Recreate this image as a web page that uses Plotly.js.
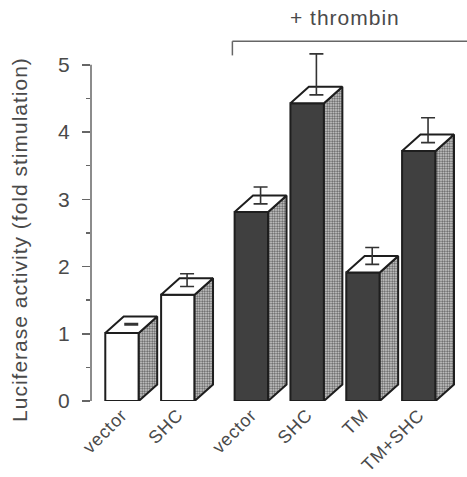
<!DOCTYPE html>
<html>
<head>
<meta charset="utf-8">
<script src="https://cdn.plot.ly/plotly-3.0.1.min.js"></script>
<style>
html,body{margin:0;padding:0;background:#fff;}
#chart{width:467px;height:477px;}
#chart .xtick text{letter-spacing:0.8px;}
#chart .annotation-text{letter-spacing:1px;}
</style>
</head>
<body>
<div id="chart"></div>
<script>
// ---- data ----
const categories = ['vector', 'SHC', 'vector', 'SHC', 'TM', 'TM+SHC'];
const groups = [0, 0, 1, 1, 1, 1];          // 0 = control, 1 = + thrombin
const values = [1.01, 1.58, 2.81, 4.43, 1.91, 3.72];
const errors = [0.02, 0.19, 0.25, 0.61, 0.25, 0.37];
const groupLabel = '+ thrombin';
const yTitle = 'Luciferase activity (fold stimulation)';
const yTicks = [0, 1, 2, 3, 4, 5];

// ---- style / geometry ----
const GROUP_GAP = 0.317;     // extra spacing before the thrombin group (x units)
const BAR_W = 0.6;           // front face width (x units)
const DEPTH_X = 0.33;        // 3D depth offset (x units)
const DEPTH_Y = 0.245;       // 3D depth offset (y units)
const FONT = 'Liberation Sans, Arial, Helvetica, sans-serif';
const TXT = '#4a4a4a';
const EDGE = '#1e1e1e';
const frontColors = ['#ffffff', '#404040'];

const xpos = categories.map((c, i) => i + groups[i] * GROUP_GAP);

// side faces and top faces as polygons derived from data
const sideX = [], sideY = [], topX = [], topY = [];
xpos.forEach((x, i) => {
  const v = values[i];
  const r = x + BAR_W / 2, l = x - BAR_W / 2;
  sideX.push(r, r + DEPTH_X, r + DEPTH_X, r, r, null);
  sideY.push(0, DEPTH_Y, v + DEPTH_Y, v, 0, null);
  topX.push(l, r, r + DEPTH_X, l + DEPTH_X, l, null);
  topY.push(v, v, v + DEPTH_Y, v + DEPTH_Y, v, null);
});

const bars = {
  type: 'bar',
  x: xpos,
  y: values,
  width: BAR_W,
  marker: {
    color: groups.map(g => frontColors[g]),
    line: {color: EDGE, width: 2}
  },
  hoverinfo: 'skip'
};

const sides = {
  type: 'scatter', mode: 'lines',
  x: sideX, y: sideY,
  fill: 'toself',
  fillcolor: '#ffffff',
  fillpattern: {shape: '.', size: 2.5, solidity: 0.5, fgcolor: '#5a5a5a', bgcolor: '#dadada'},
  line: {color: EDGE, width: 2},
  hoverinfo: 'skip'
};

const tops = {
  type: 'scatter', mode: 'lines',
  x: topX, y: topY,
  fill: 'toself',
  fillcolor: '#ffffff',
  line: {color: EDGE, width: 2},
  hoverinfo: 'skip'
};

const errs = {
  type: 'scatter', mode: 'markers',
  x: xpos.map(x => x + DEPTH_X / 2),
  y: values.map(v => v + DEPTH_Y / 2),
  marker: {size: 1, color: 'rgba(0,0,0,0)'},
  error_y: {
    type: 'data', symmetric: false,
    array: errors, arrayminus: errors.map(() => 0),
    color: '#333333', thickness: 1.6, width: 7
  },
  hoverinfo: 'skip'
};

const thrombinX = xpos.filter((x, i) => groups[i] === 1);

const layout = {
  width: 467, height: 477,
  margin: {l: 91, r: 0, t: 0, b: 76},
  paper_bgcolor: '#ffffff',
  plot_bgcolor: '#ffffff',
  showlegend: false,
  font: {family: FONT, color: TXT},
  xaxis: {
    range: [-0.556, 6.18],
    tickvals: xpos,
    ticktext: categories,
    tickangle: -45,
    ticks: '',
    ticklabelstandoff: -1,
    showline: false, showgrid: false, zeroline: false,
    tickfont: {family: FONT, size: 18, color: TXT}
  },
  yaxis: {
    range: [0, 5.964],
    tickvals: yTicks,
    ticks: 'outside', ticklen: 8, tickwidth: 1.5, tickcolor: '#666666',
    ticklabelstandoff: 8,
    minor: {tickvals: [0.5, 1.5, 2.5, 3.5, 4.5], ticks: 'outside', ticklen: 4, tickwidth: 1.5, tickcolor: '#666666', showgrid: false},
    showline: false, showgrid: false, zeroline: false,
    tickfont: {family: FONT, size: 21, color: TXT}
  },
  shapes: [
    {type: 'line', xref: 'paper', yref: 'y', x0: 0, x1: 0, y0: 0, y1: yTicks[yTicks.length - 1],
     line: {color: '#666666', width: 1.5}},
    {type: 'line', xref: 'x', yref: 'y', x0: thrombinX[0] - 0.34, x1: 6.3, y0: 5.35, y1: 5.35,
     line: {color: '#666666', width: 1.5}},
    {type: 'line', xref: 'x', yref: 'y', x0: thrombinX[0] - 0.34, x1: thrombinX[0] - 0.34, y0: 5.35, y1: 5.14,
     line: {color: '#666666', width: 1.5}}
  ],
  annotations: [
    {xref: 'x', yref: 'y', x: (thrombinX[0] + thrombinX[thrombinX.length - 1]) / 2 + 0.18, y: 5.71,
     text: groupLabel, showarrow: false,
     font: {family: FONT, size: 21, color: TXT}},
    {xref: 'paper', yref: 'paper', x: -0.189, y: 0.404, xanchor: 'center', yanchor: 'middle',
     textangle: -90, text: yTitle, showarrow: false,
     font: {family: FONT, size: 21, color: TXT}}
  ]
};

Plotly.newPlot('chart', [bars, sides, tops, errs], layout, {displayModeBar: false, staticPlot: true});
</script>
</body>
</html>
